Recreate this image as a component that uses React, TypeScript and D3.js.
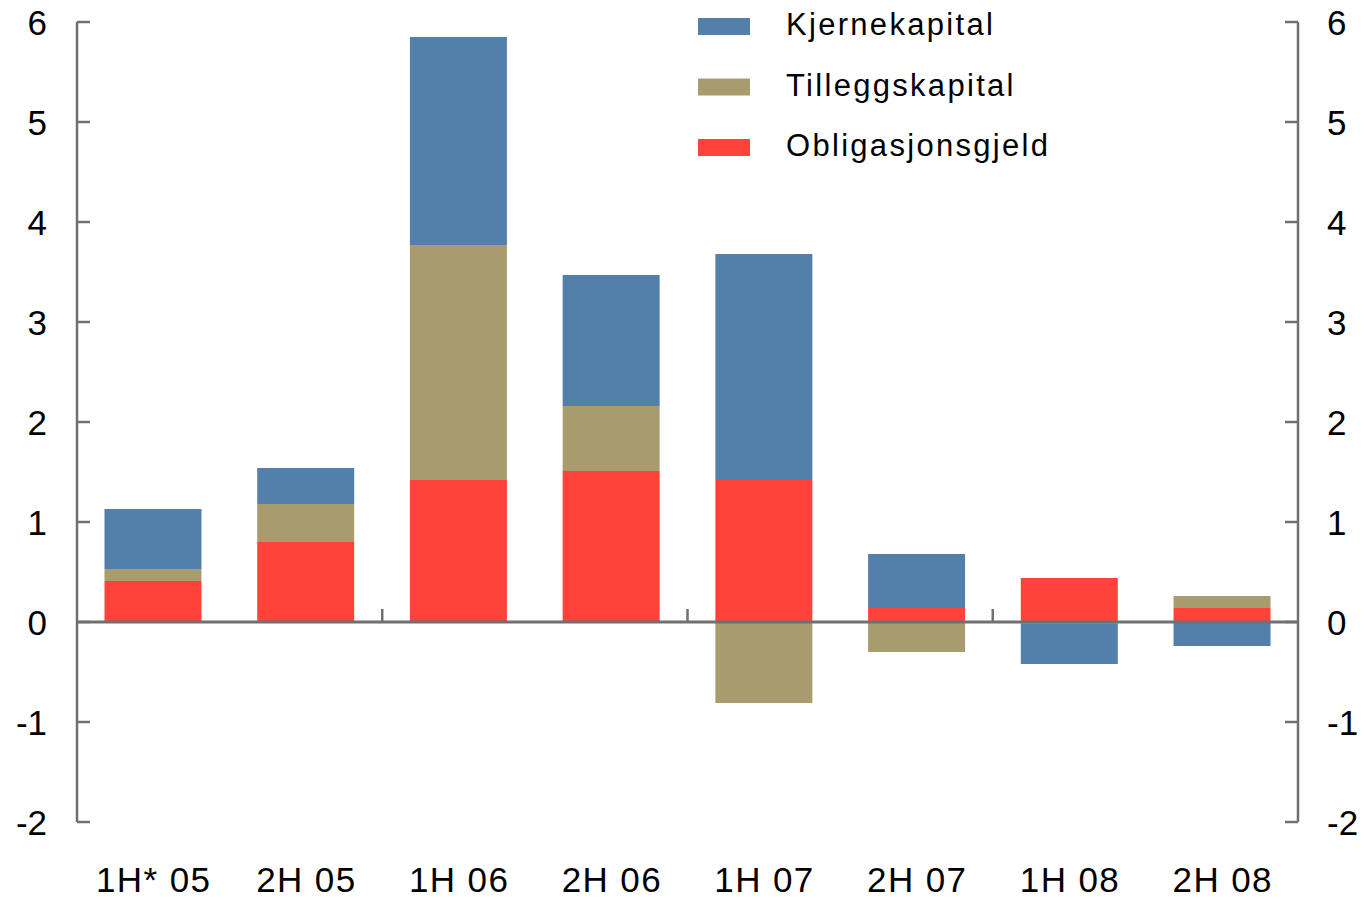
import { scaleBand, scaleLinear, stack, stackOffsetDiverging } from 'd3';

const categories = ['1H* 05', '2H 05', '1H 06', '2H 06', '1H 07', '2H 07', '1H 08', '2H 08'];
const obligasjonsgjeld = [0.41, 0.8, 1.42, 1.51, 1.42, 0.14, 0.44, 0.14];
const tilleggskapital = [0.12, 0.38, 2.35, 0.65, -0.81, -0.3, -0.02, 0.12];
const kjernekapital = [0.6, 0.36, 2.08, 1.31, 2.26, 0.54, -0.4, -0.24];
const yTicks = [-2, -1, 0, 1, 2, 3, 4, 5, 6];

const seriesKeys = ['Obligasjonsgjeld', 'Tilleggskapital', 'Kjernekapital'];
const colors: Record<string, string> = {
  Kjernekapital: '#5280ab',
  Tilleggskapital: '#a89c6e',
  Obligasjonsgjeld: '#ff433a',
};
const legendOrder = ['Kjernekapital', 'Tilleggskapital', 'Obligasjonsgjeld'];

const rows = categories.map((c, i) => ({
  cat: c,
  Obligasjonsgjeld: obligasjonsgjeld[i],
  Tilleggskapital: tilleggskapital[i],
  Kjernekapital: kjernekapital[i],
}));

const width = 1367;
const height = 899;
const left = 77;
const right = 1298;
const font = '"Liberation Sans", Arial, Helvetica, sans-serif';
const axisColor = '#707070';

export default function App() {
  const x = scaleBand<string>().domain(categories).range([left, right]).paddingInner(0.365).paddingOuter(0.18);
  const step = (right - left) / categories.length;
  const y = scaleLinear().domain([-2, 6]).range([822, 22]);

  const series = stack<any>().keys(seriesKeys).offset(stackOffsetDiverging)(rows);

  return (
    <svg width={width} height={height} style={{ position: 'absolute', left: 0, top: 0, background: '#fff' }}>
      {series.map((s) => (
        <g key={s.key} fill={colors[s.key]}>
          {s.map((d, i) => (
            <rect
              key={i}
              x={x(categories[i])}
              width={x.bandwidth()}
              y={y(Math.max(d[0], d[1]))}
              height={Math.abs(y(d[0]) - y(d[1]))}
            />
          ))}
        </g>
      ))}

      {/* axes on both sides */}
      <line x1={left} x2={left} y1={y(6)} y2={y(-2)} stroke={axisColor} strokeWidth={2.5} />
      <line x1={right} x2={right} y1={y(6)} y2={y(-2)} stroke={axisColor} strokeWidth={2.5} />
      {yTicks.map((t) => (
        <g key={t}>
          <line x1={left} x2={left + 13} y1={y(t)} y2={y(t)} stroke={axisColor} strokeWidth={2.5} />
          <line x1={right - 13} x2={right} y1={y(t)} y2={y(t)} stroke={axisColor} strokeWidth={2.5} />
          <text x={47} y={y(t)} dy="0.36em" textAnchor="end" fontFamily={font} fontSize={35} fill="#000">
            {t}
          </text>
          <text x={1327} y={y(t)} dy="0.36em" textAnchor="start" fontFamily={font} fontSize={35} fill="#000">
            {t}
          </text>
        </g>
      ))}

      {/* zero line */}
      <line x1={left} x2={right} y1={y(0)} y2={y(0)} stroke={axisColor} strokeWidth={3} />
      {[2, 4, 6].map((k) => (
        <line key={k} x1={left + step * k} x2={left + step * k} y1={y(0) - 13} y2={y(0)} stroke={axisColor} strokeWidth={2.5} />
      ))}

      {categories.map((c) => (
        <text
          key={c}
          x={(x(c) ?? 0) + x.bandwidth() / 2 + 0.7}
          y={892}
          textAnchor="middle"
          fontFamily={font}
          fontSize={35}
          letterSpacing={1.4}
          fill="#000"
        >
          {c}
        </text>
      ))}

      {legendOrder.map((k, i) => (
        <g key={k} transform={`translate(698, ${18 + i * 60.5})`}>
          <rect width={52} height={17} fill={colors[k]} />
          <text x={88} y={17} fontFamily={font} fontSize={31} letterSpacing={2.3} fill="#000">
            {k}
          </text>
        </g>
      ))}
    </svg>
  );
}
